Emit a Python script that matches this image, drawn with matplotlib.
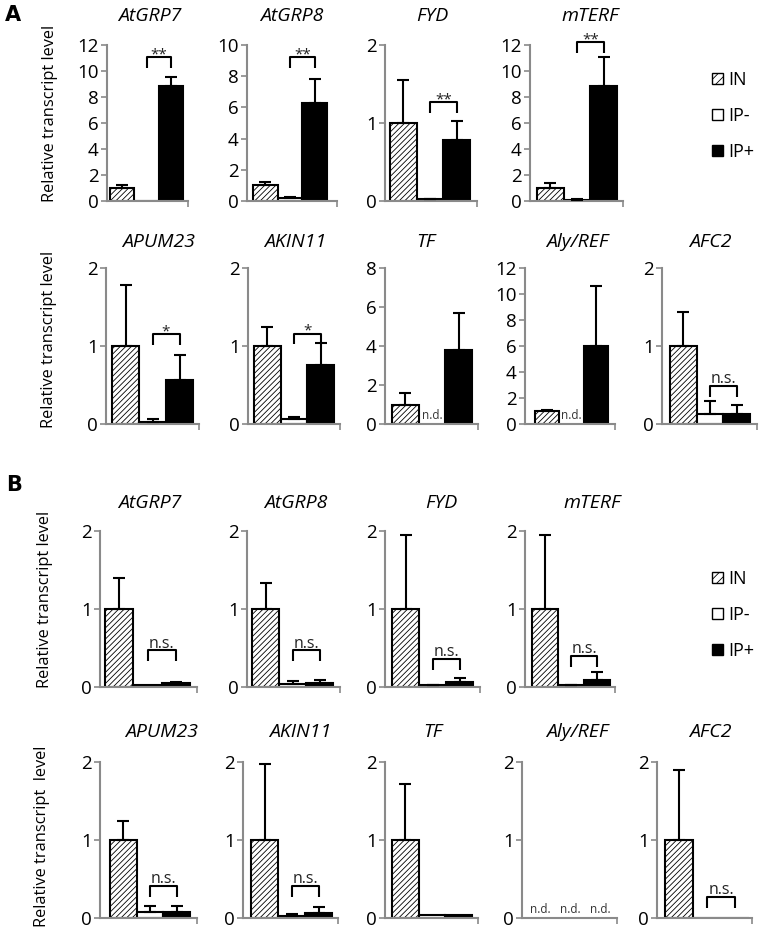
import matplotlib
matplotlib.use('Agg')
import matplotlib.pyplot as plt
from matplotlib.patches import Patch

W, H, DPI = 762, 934, 100
FONT = 'Open Sans'
plt.rcParams['font.family'] = [FONT, 'DejaVu Sans']
plt.rcParams['hatch.linewidth'] = 0.6

groups = ['IN', 'IP-', 'IP+']

# ---------------- Panel A, row 1 ----------------
a1_genes = ['AtGRP7', 'AtGRP8', 'FYD', 'mTERF']
a1_mean = [[1.0, 0.03, 8.85], [1.0, 0.2, 6.3], [1.0, 0.02, 0.78], [1.0, 0.1, 8.85]]
a1_err = [[0.2, 0.0, 0.7], [0.2, 0.05, 1.5], [0.55, 0.01, 0.24], [0.4, 0.02, 2.2]]
a1_nd = [[False] * 3] * 4
a1_ymax = [12, 10, 2, 12]
a1_ystep = [2, 2, 1, 2]
a1_sig = ['**', '**', '**', '**']
a1_sig_y = [11.1, 9.25, 1.27, 12.25]

# ---------------- Panel A, row 2 ----------------
a2_genes = ['APUM23', 'AKIN11', 'TF', 'Aly/REF', 'AFC2']
a2_mean = [[1.0, 0.03, 0.57], [1.0, 0.06, 0.76], [1.0, 0.0, 3.8], [1.0, 0.0, 6.0], [1.0, 0.13, 0.13]]
a2_err = [[0.78, 0.04, 0.32], [0.24, 0.03, 0.28], [0.58, 0.0, 1.9], [0.05, 0.0, 4.6], [0.43, 0.17, 0.12]]
a2_nd = [[False, False, False], [False, False, False], [False, True, False],
         [False, True, False], [False, False, False]]
a2_ymax = [2, 2, 8, 12, 2]
a2_ystep = [1, 1, 2, 2, 1]
a2_sig = ['*', '*', None, None, 'n.s.']
a2_sig_y = [1.15, 1.16, None, None, 0.49]

# ---------------- Panel B, row 1 ----------------
b1_genes = ['AtGRP7', 'AtGRP8', 'FYD', 'mTERF']
b1_mean = [[1.0, 0.02, 0.05], [1.0, 0.04, 0.05], [1.0, 0.02, 0.06], [1.0, 0.02, 0.09]]
b1_err = [[0.4, 0.0, 0.01], [0.33, 0.04, 0.04], [0.95, 0.01, 0.06], [0.95, 0.01, 0.1]]
b1_nd = [[False] * 3] * 4
b1_ymax = [2, 2, 2, 2]
b1_ystep = [1, 1, 1, 1]
b1_sig = ['n.s.', 'n.s.', 'n.s.', 'n.s.']
b1_sig_y = [0.47, 0.47, 0.36, 0.4]

# ---------------- Panel B, row 2 ----------------
b2_genes = ['APUM23', 'AKIN11', 'TF', 'Aly/REF', 'AFC2']
b2_mean = [[1.0, 0.08, 0.08], [1.0, 0.02, 0.07], [1.0, 0.04, 0.04], [0.0, 0.0, 0.0], [1.0, 0.0, 0.0]]
b2_err = [[0.25, 0.07, 0.08], [0.98, 0.03, 0.07], [0.72, 0.0, 0.0], [0.0, 0.0, 0.0], [0.9, 0.0, 0.0]]
b2_nd = [[False] * 3, [False] * 3, [False] * 3, [True, True, True], [False] * 3]
b2_ymax = [2, 2, 2, 2, 2]
b2_ystep = [1, 1, 1, 1, 1]
b2_sig = ['n.s.', 'n.s.', None, None, 'n.s.']
b2_sig_y = [0.41, 0.41, None, None, 0.27]

# ---------------- layout (pixels) ----------------
# (spine x, bars left, bars right, axis end x, title center x)
a1_lay = [(107, 110, 183, 188, 150), (247, 253, 327, 337, 292), (385, 390, 470, 477, 432), (530, 537, 617, 623, 590)]
a2_lay = [(106, 112, 193, 199, 159), (248, 254, 334, 340, 295), (385, 392, 472, 478, 426),
          (525, 535, 608, 615, 577), (662, 670, 750, 757, 710)]
b1_lay = [(100, 105, 190, 197, 150), (247, 252, 333, 340, 296), (385, 392, 473, 480, 441), (525, 532, 610, 615, 592)]
b2_lay = [(100, 110, 190, 197, 162), (243, 251, 332, 338, 300), (385, 392, 472, 478, 433),
          (522, 525, 615, 617, 577), (657, 665, 749, 752, 710)]
# (top px, zero px, title y px, ylabel x, ylabel y, ylabel text)
rows = [
    (a1_genes, a1_mean, a1_err, a1_nd, a1_ymax, a1_ystep, a1_sig, a1_sig_y, a1_lay,
     (45, 201, 16, 50, 113, 'Relative transcript level')),
    (a2_genes, a2_mean, a2_err, a2_nd, a2_ymax, a2_ystep, a2_sig, a2_sig_y, a2_lay,
     (268, 424, 242, 49, 339, 'Relative transcript level')),
    (b1_genes, b1_mean, b1_err, b1_nd, b1_ymax, b1_ystep, b1_sig, b1_sig_y, b1_lay,
     (531, 687, 503, 45, 599, 'Relative transcript level')),
    (b2_genes, b2_mean, b2_err, b2_nd, b2_ymax, b2_ystep, b2_sig, b2_sig_y, b2_lay,
     (762, 918, 732, 42, 836, 'Relative transcript  level')),
]

SPINE = '#8a8a8a'
fig = plt.figure(figsize=(W / DPI, H / DPI), dpi=DPI)

def fx(px):
    return px / W

def fy(py):
    return 1 - py / H

bar_styles = [dict(facecolor='white', hatch='//////'), dict(facecolor='white'), dict(facecolor='black')]

for genes, means, errs, nds, ymaxs, ysteps, sigs, sigys, lay, (top, zero, ty, ylx, yly, yltxt) in rows:
    for i, g in enumerate(genes):
        spine, bl, br, end, tcx = lay[i]
        ax = fig.add_axes([fx(spine), fy(zero), (end - spine) / W, (zero - top) / H])
        unit = (br - bl) / 3.0
        ax.set_xlim(-0.5 - (bl - spine) / unit, 2.5 + (end - br) / unit)
        ax.set_ylim(0, ymaxs[i])
        xs = [0, 1, 2]
        for j in xs:
            if nds[i][j]:
                ax.text(j, 0.01 * ymaxs[i], 'n.d.', ha='center', va='bottom', fontsize=8.5, color='#333333')
                continue
            ax.bar(j, means[i][j], width=1.0, edgecolor='black', linewidth=1.5, zorder=2, **bar_styles[j])
            if errs[i][j] > 0:
                ax.errorbar(j, means[i][j], yerr=[[0], [errs[i][j]]], fmt='none', ecolor='black',
                            elinewidth=1.5, capsize=4, capthick=1.5, zorder=3, clip_on=False)
        if sigs[i] is not None:
            yt = sigys[i]
            leg = 0.07 * ymaxs[i]
            ax.plot([1, 1, 2, 2], [yt - leg, yt, yt, yt - leg], color='black', lw=1.5,
                    clip_on=False, zorder=4, solid_capstyle='butt')
            star = sigs[i].startswith('*')
            ax.annotate(sigs[i], xy=(1.5, yt), xytext=(0, -1 if star else 2), textcoords='offset points',
                        ha='center', va='baseline', fontsize=11 if star else 11.5, annotation_clip=False,
                        color='#222222')
        for s in ['top', 'right']:
            ax.spines[s].set_visible(False)
        for s in ['left', 'bottom']:
            ax.spines[s].set_color(SPINE)
            ax.spines[s].set_linewidth(1.5)
        ax.set_yticks(range(0, ymaxs[i] + 1, ysteps[i]))
        ax.tick_params(axis='y', colors=SPINE, labelcolor='black', labelsize=13.5, length=4, width=1.2, pad=2)
        ax.set_xticks([ax.get_xlim()[1]])
        ax.set_xticklabels([])
        ax.tick_params(axis='x', colors=SPINE, length=4, width=1.2)
        fig.text(fx(tcx), fy(ty), g, ha='center', va='center', fontsize=14, style='italic')
    fig.text(fx(ylx), fy(yly), yltxt, rotation=90, ha='center', va='center', fontsize=11.8)

fig.text(fx(13), fy(15), 'A', ha='center', va='center', fontsize=15, fontweight='bold', family='DejaVu Sans')
fig.text(fx(14), fy(485), 'B', ha='center', va='center', fontsize=15, fontweight='bold', family='DejaVu Sans')

handles = [Patch(facecolor='white', edgecolor='black', hatch='////', linewidth=1.0, label='IN'),
           Patch(facecolor='white', edgecolor='black', linewidth=1.0, label='IP-'),
           Patch(facecolor='black', edgecolor='black', linewidth=1.0, label='IP+')]
for cy in [116, 615]:
    fig.legend(handles=handles, loc='center left', bbox_to_anchor=(fx(703), fy(cy)), frameon=False,
               fontsize=13, handlelength=0.6, handleheight=0.6, handletextpad=0.3, labelspacing=1.0,
               borderpad=0)

fig.savefig('out.png', dpi=DPI)
